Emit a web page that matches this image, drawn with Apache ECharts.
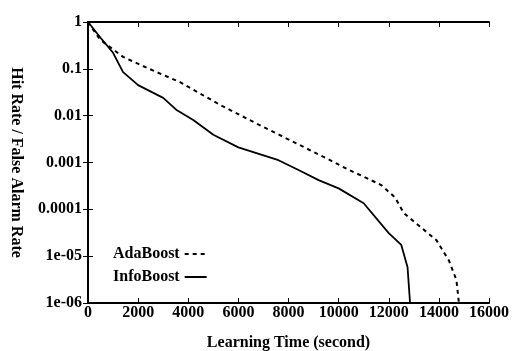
<!DOCTYPE html>
<html>
<head>
<meta charset="utf-8">
<script src="https://cdn.jsdelivr.net/npm/echarts@6/dist/echarts.min.js"></script>
<style>
  html, body { margin: 0; padding: 0; background: #fff; }
  #main { width: 512px; height: 351px; }
</style>
</head>
<body>
<div id="main"></div>
<script>
// learning time (second) and rates
var adaTime = [0, 480, 1400, 2350, 3670, 5270, 6700, 9660, 10420, 11100, 11700, 12250, 12600, 13900, 14400, 14700, 14800];
var adaRate = [1, 0.42, 0.18, 0.105, 0.052, 0.017, 0.0069, 0.00112, 0.00069, 0.00047, 0.00033, 0.00018, 0.000083, 0.000022, 0.0000081, 0.0000031, 0.000001];

var infoTime = [0, 500, 1000, 1400, 2000, 3000, 3550, 4200, 5000, 6000, 7600, 8400, 9200, 10000, 11000, 12000, 12500, 12750, 12850];
var infoRate = [1, 0.46, 0.22, 0.085, 0.045, 0.024, 0.013, 0.0081, 0.0039, 0.0021, 0.00112, 0.00069, 0.00042, 0.00028, 0.000135, 0.000031, 0.0000174, 0.0000058, 0.000001];

// tick labels as printed on the y axis, from top to bottom
var yTickLabels = ['1', '0.1', '0.01', '0.001', '0.0001', '1e-05', '1e-06'];

function pairs(xs, ys) {
    var out = [];
    for (var i = 0; i < xs.length; i++) {
        out.push([xs[i], ys[i]]);
    }
    return out;
}

var fontFam = '"Liberation Serif", "DejaVu Serif", serif';
var labelStyle = { color: '#000', fontFamily: fontFam, fontWeight: 'bold', fontSize: 16 };
var boxLine = { show: true, lineStyle: { color: '#000', width: 2 } };
var inTick = { show: true, inside: true, length: 5, lineStyle: { color: '#000', width: 1 } };

var myChart = echarts.init(document.getElementById('main'));
var option = {
    animation: false,
    backgroundColor: '#fff',
    grid: { left: 88, right: 23, top: 22, bottom: 48, containLabel: false, outerBoundsMode: 'none' },
    legend: {
        orient: 'vertical',
        left: 108,
        top: 241,
        align: 'right',
        itemWidth: 22,
        itemHeight: 10,
        itemGap: 7,
        itemStyle: { opacity: 0 },
        textStyle: { color: '#000', fontFamily: fontFam, fontWeight: 'bold', fontSize: 16 },
        data: ['AdaBoost', 'InfoBoost']
    },
    xAxis: [
        {
            type: 'value',
            min: 0,
            max: 16000,
            interval: 2000,
            name: 'Learning Time (second)',
            nameLocation: 'middle',
            nameGap: 32,
            nameTextStyle: { color: '#000', fontFamily: fontFam, fontWeight: 'bold', fontSize: 16 },
            axisLine: boxLine,
            axisTick: inTick,
            axisLabel: Object.assign({
                margin: 2,
                formatter: function (v) { return String(v); }
            }, labelStyle),
            splitLine: { show: false }
        },
        {
            type: 'value',
            position: 'top',
            min: 0,
            max: 16000,
            interval: 2000,
            axisLine: boxLine,
            axisTick: inTick,
            axisLabel: { show: false },
            splitLine: { show: false }
        }
    ],
    yAxis: [
        {
            type: 'log',
            logBase: 10,
            min: 0.000001,
            max: 1,
            name: 'Hit Rate / False Alarm Rate',
            nameLocation: 'middle',
            nameGap: 64,
            nameRotate: -90,
            nameTextStyle: { color: '#000', fontFamily: fontFam, fontWeight: 'bold', fontSize: 16 },
            axisLine: boxLine,
            axisTick: inTick,
            axisLabel: Object.assign({
                margin: 6,
                formatter: function (v) {
                    var k = Math.round(-Math.log(v) / Math.LN10);
                    return yTickLabels[k] !== undefined ? yTickLabels[k] : String(v);
                }
            }, labelStyle),
            splitLine: { show: false }
        },
        {
            type: 'log',
            logBase: 10,
            min: 0.000001,
            max: 1,
            position: 'right',
            axisLine: boxLine,
            axisTick: inTick,
            axisLabel: { show: false },
            splitLine: { show: false }
        }
    ],
    series: [
        {
            name: 'AdaBoost',
            type: 'line',
            symbol: 'none',
            xAxisIndex: 0,
            yAxisIndex: 0,
            lineStyle: { color: '#000', width: 2, type: [4, 4] },
            itemStyle: { color: '#000' },
            data: pairs(adaTime, adaRate)
        },
        {
            name: 'InfoBoost',
            type: 'line',
            symbol: 'none',
            xAxisIndex: 0,
            yAxisIndex: 0,
            lineStyle: { color: '#000', width: 1.8, type: 'solid' },
            itemStyle: { color: '#000' },
            data: pairs(infoTime, infoRate)
        }
    ]
};
myChart.setOption(option);
</script>
</body>
</html>
